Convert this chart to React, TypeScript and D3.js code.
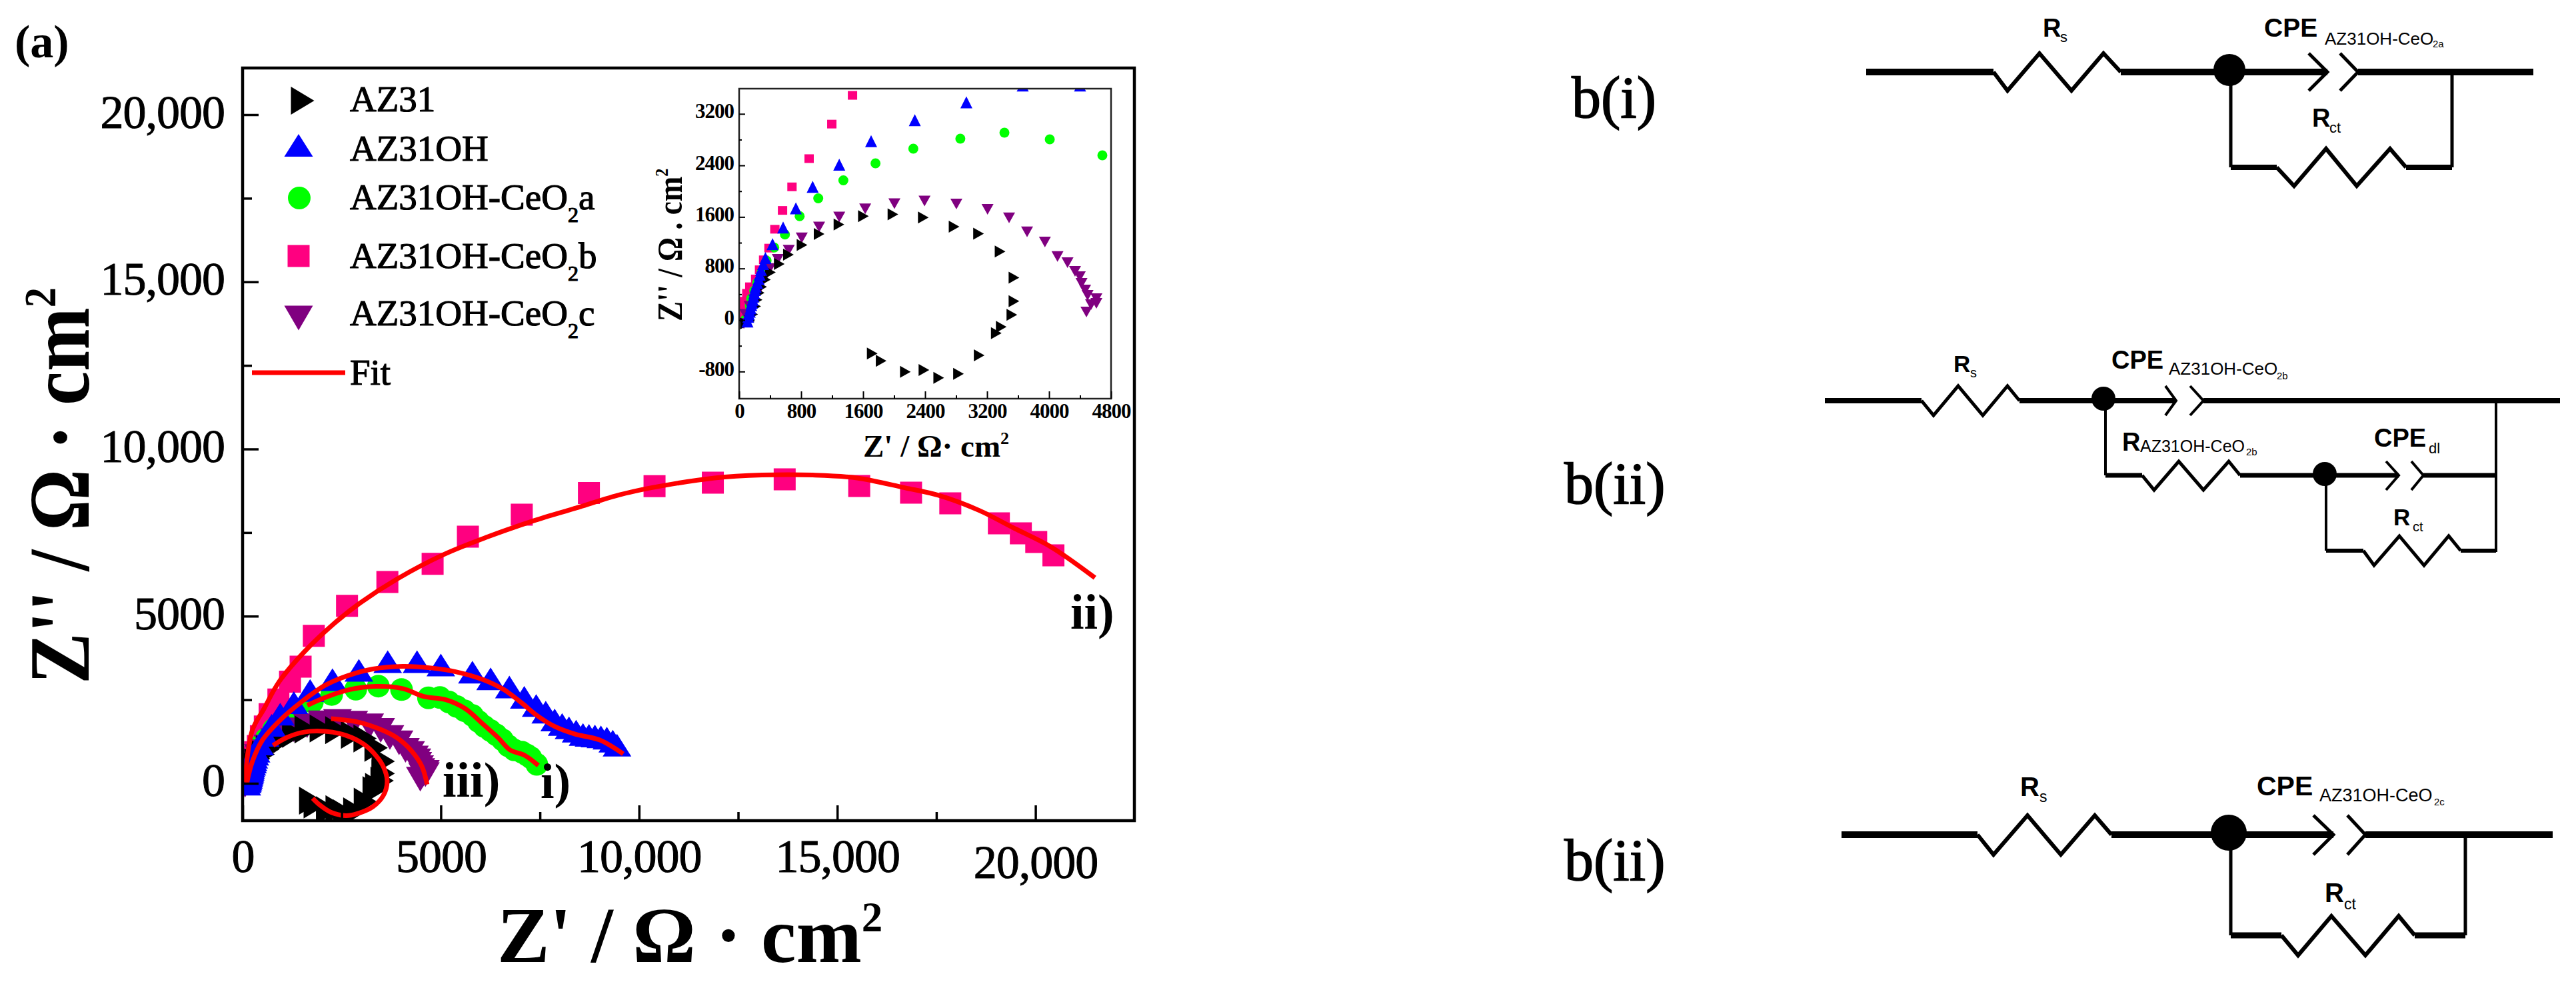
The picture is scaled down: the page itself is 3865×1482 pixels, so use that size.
import { useEffect, useRef } from 'react';
import * as d3 from 'd3';

type Pt = number[];

// measured points, [Z', Z''] in ohm.cm2
const az31: Pt[] = [[1718,-520],[1833,-633],[2145,-804],[2385,-775],[2576,-897],[2831,-836],[3098,-548],[3319,-203],[3383,-106],[3520,81],[3547,292],[3547,658],[3368,1064],[3090,1340],[2774,1449],[2377,1592],[1985,1640],[1604,1612],[1288,1482],[1032,1336],[812,1165],[636,1015],[518,869],[404,739],[339,625],[290,516],[259,422],[232,313],[213,211],[175,89],[137,-12],[80,-53]];
const az31oh: Pt[] = [[107,-24],[118,49],[125,90],[137,130],[147,180],[156,231],[165,270],[175,313],[185,365],[194,414],[203,465],[213,516],[232,575],[251,637],[265,705],[282,780],[310,870],[339,962],[431,1177],[568,1437],[732,1734],[949,2067],[1292,2412],[1703,2777],[2267,3102],[2933,3380],[3660,3640],[4400,3640],[5000,3540],[5797,3327],[6256,3127],[6729,2880],[7105,2573],[7406,2327],[7647,2127],[7872,1893],[8060,1760],[8233,1660],[8413,1560],[8586,1460],[8737,1433],[8887,1413],[9038,1393],[9188,1353],[9338,1260],[9444,1140]];
const ceo2a: Pt[] = [[80,8],[107,110],[137,231],[156,333],[194,455],[232,577],[290,739],[354,922],[453,1125],[591,1328],[781,1612],[1021,1888],[1345,2168],[1760,2432],[2248,2659],[2855,2815],[3424,2908],[4009,2804],[4688,2556],[4977,2567],[5203,2433],[5400,2300],[5600,2170],[5800,2030],[5950,1850],[6100,1700],[6250,1580],[6400,1450],[6556,1300],[6700,1120],[6850,1000],[7045,933],[7170,850],[7271,767],[7421,567]];
const ceo2b: Pt[] = [[11,49],[34,170],[61,292],[99,414],[137,516],[213,637],[263,780],[316,934],[385,1116],[461,1409],[560,1701],[682,2067],[903,2505],[1196,3041],[1463,3487],[1797,4413],[2634,5311],[3652,6022],[4793,6567],[5683,7377],[7042,8036],[8736,8682],[10391,8889],[11862,8995],[13674,9095],[15554,8895],[16862,8696],[17852,8376],[19077,7778],[19631,7479],[20020,7220],[20453,6820]];
const ceo2c: Pt[] = [[61,-53],[80,89],[137,211],[194,313],[232,414],[271,536],[328,658],[396,800],[499,942],[640,1084],[808,1275],[1032,1445],[1292,1600],[1627,1725],[2004,1807],[2393,1847],[2804,1801],[3206,1718],[3484,1587],[3716,1369],[3946,1211],[4109,986],[4238,890],[4335,755],[4396,673],[4419,569],[4465,466],[4497,383],[4611,331],[4611,259],[4542,238],[4482,124]];

// fitted curves
const fitA: Pt[] = [[1632,2333],[2083,2567],[2684,2800],[3361,2900],[4038,2833],[4564,2600],[5128,2500],[5617,2233],[6068,1767],[6444,1367],[6744,1000],[7120,833],[7459,533]];
const fitB: Pt[] = [[53,33],[240,1567],[541,2233],[917,3033],[1556,3933],[2282,4753],[2953,5385],[3904,6117],[5079,6847],[6191,7377],[7315,7844],[8434,8243],[9547,8642],[10663,8915],[11905,9134],[13104,9220],[14380,9220],[15500,9134],[16700,8841],[17550,8615],[18580,8163],[19440,7644],[20380,7080],[21500,6149]];
const fitOH: Pt[] = [[105,0],[241,633],[504,1300],[955,1900],[1481,2433],[2083,2933],[2684,3233],[3286,3420],[4038,3500],[4789,3447],[5391,3333],[6068,3100],[6594,2800],[7045,2400],[7421,2033],[7872,1700],[8398,1467],[9000,1300],[9602,880]];
const fitC: Pt[] = [[2233,1933],[2910,1833],[3436,1633],[3887,1367],[4263,967],[4526,500],[4654,-33]];
const fitAZ: Pt[] = [[767,1133],[1105,1367],[1556,1533],[2083,1553],[2609,1433],[3060,1167],[3361,833],[3549,500],[3647,67],[3549,-367],[3286,-700],[2910,-900],[2609,-967],[2233,-867],[1932,-633],[1767,-447]];

const mainXTicks = [0, 5000, 10000, 15000, 20000];
const mainXMinor = [2500, 7500, 12500, 17500];
const mainYTicks = [0, 5000, 10000, 15000, 20000];
const mainYMinor = [2500, 7500, 12500, 17500];
const insetXTicks = [0, 800, 1600, 2400, 3200, 4000, 4800];
const insetXMinor = [400, 1200, 2000, 2800, 3600, 4400];
const insetYTicks = [-800, 0, 800, 1600, 2400, 3200];
const insetYMinor = [-400, 400, 1200, 2000, 2800];

const SERIF = '"Liberation Serif", serif';
const SANS = '"Liberation Sans", sans-serif';

// marker outline centred on its bounding box
function markerPath(shape: string, w: number, h: number) {
  const a = w / 2, b = h / 2;
  if (shape === 'right') return `M${-a},${-b}L${a},0L${-a},${b}Z`;
  if (shape === 'up') return `M0,${-b}L${a},${b}L${-a},${b}Z`;
  if (shape === 'down') return `M${-a},${-b}L${a},${-b}L0,${b}Z`;
  if (shape === 'square') return `M${-a},${-b}H${a}V${b}H${-a}Z`;
  return d3.symbol(d3.symbolCircle, Math.PI * a * a)() as string;
}

// order is the drawing order, last on top
const seriesList = [
  { data: ceo2b, color: '#FF0080', shape: 'square', big: [33, 33], small: [14, 13] },
  { data: ceo2a, color: '#00FF00', shape: 'circle', big: [34, 34], small: [15, 15] },
  { data: ceo2c, color: '#800080', shape: 'down', big: [43, 37], small: [18, 16] },
  { data: az31, color: '#000000', shape: 'right', big: [35, 42], small: [16, 18] },
  { data: az31oh, color: '#0000FF', shape: 'up', big: [43, 34], small: [18, 18] },
];

const legendItems = [
  { name: 'AZ31', sub: '', tail: '', color: '#000000', shape: 'right', size: [35, 42], mx: 454, my: 151, ty: 167 },
  { name: 'AZ31OH', sub: '', tail: '', color: '#0000FF', shape: 'up', size: [43, 34], mx: 448, my: 218, ty: 241 },
  { name: 'AZ31OH-CeO', sub: '2', tail: 'a', color: '#00FF00', shape: 'circle', size: [34, 34], mx: 449, my: 297, ty: 314 },
  { name: 'AZ31OH-CeO', sub: '2', tail: 'b', color: '#FF0080', shape: 'square', size: [33, 33], mx: 448, my: 384, ty: 402 },
  { name: 'AZ31OH-CeO', sub: '2', tail: 'c', color: '#800080', shape: 'down', size: [43, 37], mx: 448, my: 477, ty: 488 },
];

// equivalent circuits, drawn by hand
const circuits = [
  {
    wires: [
      { w: 10, p: [[2800,108],[2991,108]] }, { w: 10, p: [[3182,108],[3492,108]] }, { w: 10, p: [[3538,108],[3801,108]] },
      { w: 6, p: [[2991,108],[3012,136],[3060,80],[3108,136],[3156,80],[3182,108]] },
      { w: 5, p: [[3347,105],[3347,251]] }, { w: 5, p: [[3679,108],[3679,251]] },
      { w: 8, p: [[3347,251],[3416,251]] }, { w: 8, p: [[3610,251],[3679,251]] },
      { w: 6, p: [[3416,251],[3442,279],[3490,223],[3536,279],[3586,223],[3610,251]] },
      { w: 5, p: [[3464,80],[3492,108],[3464,136]] }, { w: 5, p: [[3511,80],[3538,108],[3511,136]] },
    ],
    dots: [[3345, 105, 24]],
    labels: [
      { t: 'R', x: 3065, y: 55, s: 38, b: true }, { t: 's', x: 3091, y: 63, s: 22, b: false },
      { t: 'CPE', x: 3397, y: 55, s: 39, b: true }, { t: 'AZ31OH-CeO', x: 3488, y: 67, s: 26, b: false }, { t: '2a', x: 3650, y: 71, s: 15, b: false },
      { t: 'R', x: 3469, y: 190, s: 38, b: true }, { t: 'ct', x: 3495, y: 199, s: 22, b: false },
    ],
  },
  {
    wires: [
      { w: 8, p: [[2738,601],[2883,601]] }, { w: 8, p: [[3030,601],[3265,601]] }, { w: 8, p: [[3306,601],[3841,601]] },
      { w: 5, p: [[2883,601],[2901,623],[2938,579],[2975,623],[3012,579],[3030,601]] },
      { w: 4, p: [[3159,598],[3159,713]] }, { w: 4, p: [[3745,601],[3745,828]] },
      { w: 7, p: [[3159,713],[3214,713]] }, { w: 7, p: [[3361,713],[3599,713]] }, { w: 7, p: [[3636,713],[3745,713]] },
      { w: 5, p: [[3214,713],[3232,735],[3269,692],[3306,735],[3344,692],[3361,713]] },
      { w: 4, p: [[3490,711],[3490,826]] },
      { w: 6, p: [[3490,826],[3546,826]] }, { w: 6, p: [[3692,826],[3745,826]] },
      { w: 5, p: [[3546,826],[3562,848],[3600,804],[3637,848],[3674,804],[3692,826]] },
      { w: 4, p: [[3249,579],[3265,601],[3249,623]] }, { w: 4, p: [[3286,579],[3306,601],[3286,623]] },
      { w: 4, p: [[3580,692],[3599,713],[3580,735]] }, { w: 4, p: [[3618,692],[3636,713],[3618,735]] },
    ],
    dots: [[3156, 598, 18], [3488, 711, 18]],
    labels: [
      { t: 'R', x: 2931, y: 558, s: 35, b: true }, { t: 's', x: 2956, y: 566, s: 20, b: false },
      { t: 'CPE', x: 3168, y: 553, s: 38, b: true }, { t: 'AZ31OH-CeO', x: 3254, y: 562, s: 26, b: false }, { t: '2b', x: 3416, y: 569, s: 15, b: false },
      { t: 'R', x: 3184, y: 676, s: 38, b: true }, { t: 'AZ31OH-CeO', x: 3211, y: 678, s: 25, b: false }, { t: '2b', x: 3370, y: 683, s: 15, b: false },
      { t: 'CPE', x: 3562, y: 670, s: 38, b: true }, { t: 'dl', x: 3644, y: 680, s: 22, b: false },
      { t: 'R', x: 3591, y: 788, s: 35, b: true }, { t: 'ct', x: 3620, y: 797, s: 20, b: false },
    ],
  },
  {
    wires: [
      { w: 10, p: [[2763,1252],[2967,1252]] }, { w: 10, p: [[3168,1252],[3501,1252]] }, { w: 10, p: [[3549,1252],[3830,1252]] },
      { w: 6, p: [[2967,1252],[2991,1282],[3042,1223],[3092,1282],[3143,1223],[3168,1252]] },
      { w: 5, p: [[3347,1249],[3347,1403]] }, { w: 5, p: [[3699,1252],[3699,1403]] },
      { w: 9, p: [[3347,1403],[3423,1403]] }, { w: 9, p: [[3623,1403],[3699,1403]] },
      { w: 6, p: [[3423,1403],[3448,1433],[3498,1374],[3549,1433],[3599,1374],[3623,1403]] },
      { w: 5, p: [[3471,1223],[3501,1252],[3471,1282]] }, { w: 5, p: [[3522,1223],[3549,1252],[3522,1282]] },
    ],
    dots: [[3344, 1249, 27]],
    labels: [
      { t: 'R', x: 3031, y: 1194, s: 40, b: true }, { t: 's', x: 3060, y: 1203, s: 23, b: false },
      { t: 'CPE', x: 3386, y: 1193, s: 41, b: true }, { t: 'AZ31OH-CeO', x: 3480, y: 1202, s: 27, b: false }, { t: '2c', x: 3652, y: 1208, s: 15, b: false },
      { t: 'R', x: 3488, y: 1353, s: 40, b: true }, { t: 'ct', x: 3517, y: 1364, s: 23, b: false },
    ],
  },
];

const panelLabels = [
  { t: 'b(i)', x: 2358, y: 176 },
  { t: 'b(ii)', x: 2347, y: 755 },
  { t: 'b(ii)', x: 2347, y: 1320 },
];

const curveLabels = [
  { t: 'ii)', x: 1606, y: 943 },
  { t: 'iii)', x: 664, y: 1195 },
  { t: 'i)', x: 811, y: 1197 },
];

export default function App() {
  const svgRef = useRef<SVGSVGElement>(null);

  useEffect(() => {
    if (!svgRef.current) return;
    const svg = d3.select(svgRef.current);
    svg.selectAll('*').remove();

    // ---- main plot
    const x = d3.scaleLinear().domain([0, 22495]).range([364, 1702]);
    const y = d3.scaleLinear().domain([-1117, 21396]).range([1231, 102]);
    // ---- inset
    const ix = d3.scaleLinear().domain([0, 4800]).range([1109, 1667]);
    const iy = d3.scaleLinear().domain([-1221, 3591]).range([598, 133]);

    const defs = svg.append('defs');
    defs.append('clipPath').attr('id', 'clipMain').append('rect')
      .attr('x', 364).attr('y', 102).attr('width', 1338).attr('height', 1129);
    defs.append('clipPath').attr('id', 'clipInset').append('rect')
      .attr('x', 1109).attr('y', 133).attr('width', 558).attr('height', 465);

    const drawAxes = (
      sx: any, sy: any, xTicks: number[], xMinor: number[], yTicks: number[], yMinor: number[],
      o: { maj: number; min: number; majY: number; minY: number; sw: number; size: number; tx: number; ty: number; dyY: number; spacing: number; fmt: (d: number) => string; w: number; ink: number }
    ) => {
      const [x0] = sx.range();
      const [y0] = sy.range();
      const styleAxis = (g: any) => {
        g.select('.domain').remove();
        g.selectAll('line').attr('stroke', '#000').attr('stroke-width', o.sw);
      };
      const styleText = (sel: any) => sel
        .style('font-family', SERIF).style('font-size', `${o.size}px`).style('font-weight', o.w)
        .style('letter-spacing', `${o.spacing}px`).attr('fill', '#000').attr('stroke', '#000').attr('stroke-width', o.ink);
      const xG = svg.append('g').attr('transform', `translate(0,${y0})`);
      xG.call(d3.axisBottom(sx).tickValues(xTicks).tickSize(-o.maj).tickFormat(o.fmt as any)).call(styleAxis);
      xG.selectAll('text').attr('y', o.tx).attr('dy', 0).call(styleText);
      svg.append('g').attr('transform', `translate(0,${y0})`)
        .call(d3.axisBottom(sx).tickValues(xMinor).tickSize(-o.min).tickFormat(() => '')).call(styleAxis);
      const yG = svg.append('g').attr('transform', `translate(${x0},0)`);
      yG.call(d3.axisLeft(sy).tickValues(yTicks).tickSize(-o.majY).tickFormat(o.fmt as any)).call(styleAxis);
      yG.selectAll('text').attr('x', -o.ty).attr('dy', o.dyY).call(styleText);
      svg.append('g').attr('transform', `translate(${x0},0)`)
        .call(d3.axisLeft(sy).tickValues(yMinor).tickSize(-o.minY).tickFormat(() => '')).call(styleAxis);
      return xG;
    };

    const drawSeries = (sx: any, sy: any, clip: string, key: 'big' | 'small') => {
      const g = svg.append('g').attr('clip-path', `url(#${clip})`);
      seriesList.forEach(s => {
        const path = markerPath(s.shape, s[key][0], s[key][1]);
        g.append('g').selectAll('path').data(s.data).enter().append('path')
          .attr('d', path)
          .attr('transform', d => `translate(${sx(d[0])},${sy(d[1])})`)
          .attr('fill', s.color);
      });
      return g;
    };

    // main frame and data
    const mainData = drawSeries(x, y, 'clipMain', 'big');
    const fitLine = d3.line<Pt>().x(d => x(d[0])).y(d => y(d[1])).curve(d3.curveCatmullRom.alpha(0.5));
    [fitB, fitOH, fitA, fitC, fitAZ].forEach(f => {
      mainData.append('path').attr('d', fitLine(f)).attr('fill', 'none').attr('stroke', '#FF0000').attr('stroke-width', 7);
    });
    svg.append('rect').attr('x', 364).attr('y', 102).attr('width', 1338).attr('height', 1129)
      .attr('fill', 'none').attr('stroke', '#000').attr('stroke-width', 4.5);
    const mainX = drawAxes(x, y, mainXTicks, mainXMinor, mainYTicks, mainYMinor, {
      maj: 23, min: 13, majY: 24, minY: 14, sw: 3.5, size: 70, tx: 77, ty: 27, dyY: 19, spacing: -1, w: 400, ink: 1,
      fmt: (d: number) => (d >= 10000 ? d3.format(',')(d) : String(d)),
    });
    // the last x label sits a bit lower in the original
    mainX.selectAll('text').filter((d: any) => d === 20000).attr('y', 86);

    // inset frame and data
    svg.append('rect').attr('x', 1109).attr('y', 133).attr('width', 558).attr('height', 465).attr('fill', '#fff');
    drawSeries(ix, iy, 'clipInset', 'small');
    svg.append('rect').attr('x', 1109).attr('y', 133).attr('width', 558).attr('height', 465)
      .attr('fill', 'none').attr('stroke', '#222').attr('stroke-width', 2.5);
    drawAxes(ix, iy, insetXTicks, insetXMinor, insetYTicks, insetYMinor, {
      maj: 11, min: 5, majY: 9, minY: 4, sw: 2, size: 31, tx: 29, ty: 8, dyY: 6, spacing: -1, w: 700, ink: 0,
      fmt: (d: number) => String(d),
    });

    // axis titles with their superscripts
    const title = (label: string, size: number, transform: string, supSize: number, supRise: number) => {
      const t = svg.append('text').attr('transform', transform)
        .style('font-family', SERIF).style('font-weight', 700).style('font-size', `${size}px`).attr('fill', '#000');
      t.append('tspan').text(label);
      t.append('tspan').text('2').attr('dy', -supRise).style('font-size', `${supSize}px`);
    };
    title("Z' / Ω · cm", 118, 'translate(746,1443)', 63, 46);
    title("Z'' / Ω · cm", 115, 'translate(133,1026) rotate(-90) scale(1,1.13)', 60, 44);
    title("Z' / Ω· cm", 47, 'translate(1295,685)', 26, 19);
    title("Z'' / Ω . cm", 45, 'translate(1023,482) rotate(-90) scale(1,1.15)', 24, 18);

    // legend
    legendItems.forEach(l => {
      svg.append('path').attr('d', markerPath(l.shape, l.size[0], l.size[1]))
        .attr('transform', `translate(${l.mx},${l.my})`).attr('fill', l.color);
      const t = svg.append('text').attr('x', 525).attr('y', l.ty)
        .style('font-family', SERIF).style('font-size', '55px').attr('fill', '#000').attr('stroke', '#000').attr('stroke-width', 1.2);
      t.append('tspan').text(l.name);
      if (l.sub) {
        t.append('tspan').text(l.sub).attr('dy', 19).style('font-size', '32px');
        t.append('tspan').text(l.tail).attr('dy', -19);
      }
    });
    svg.append('line').attr('x1', 378).attr('x2', 518).attr('y1', 559).attr('y2', 559)
      .attr('stroke', '#FF0000').attr('stroke-width', 7);
    svg.append('text').attr('x', 525).attr('y', 577).text('Fit')
      .style('font-family', SERIF).style('font-size', '55px').attr('fill', '#000').attr('stroke', '#000').attr('stroke-width', 1.2);

    svg.append('text').attr('x', 22).attr('y', 86).text('(a)')
      .style('font-family', SERIF).style('font-weight', 700).style('font-size', '70px').attr('fill', '#000');

    curveLabels.forEach(c => {
      svg.append('text').attr('x', c.x).attr('y', c.y).text(c.t)
        .style('font-family', SERIF).style('font-weight', 700).style('font-size', '74px').attr('fill', '#000');
    });

    // ---- circuits
    const wire = d3.line();
    circuits.forEach(c => {
      const g = svg.append('g');
      c.wires.forEach(w => {
        g.append('path').attr('d', wire(w.p as [number, number][])).attr('fill', 'none')
          .attr('stroke', '#000').attr('stroke-width', w.w).attr('stroke-linejoin', 'miter');
      });
      c.dots.forEach(d => {
        g.append('circle').attr('cx', d[0]).attr('cy', d[1]).attr('r', d[2]).attr('fill', '#000');
      });
      c.labels.forEach(l => {
        g.append('text').attr('x', l.x).attr('y', l.y).text(l.t)
          .style('font-family', SANS).style('font-size', `${l.s}px`).style('font-weight', l.b ? 700 : 400).attr('fill', '#000');
      });
    });

    panelLabels.forEach(p => {
      svg.append('text').attr('x', p.x).attr('y', p.y).text(p.t)
        .style('font-family', SERIF).style('font-size', '88px').attr('fill', '#000').attr('stroke', '#000').attr('stroke-width', 1.5);
    });
  }, []);

  return (
    <svg ref={svgRef} width={3865} height={1482} style={{ position: 'absolute', left: 0, top: 0, background: '#fff' }} />
  );
}
